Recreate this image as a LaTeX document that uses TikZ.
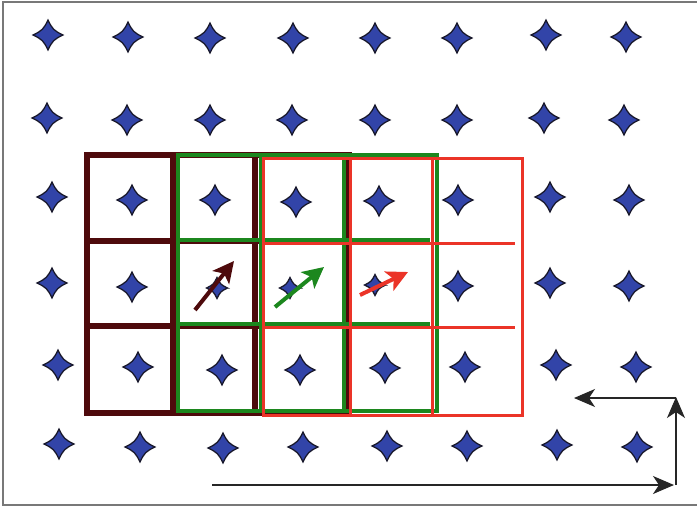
\documentclass[tikz,border=0pt]{standalone}
\usetikzlibrary{arrows.meta}
\definecolor{starblue}{RGB}{50,68,168}
\definecolor{stardark}{RGB}{25,25,45}
\definecolor{gbrown}{RGB}{78,10,12}
\definecolor{ggreen}{RGB}{28,135,30}
\definecolor{gred}{RGB}{235,52,40}
\definecolor{framegray}{RGB}{120,120,120}
\tikzset{
  star4/.pic={\filldraw[fill=starblue,draw=stardark,line width=1.3pt]
    (15,0) .. controls (6,4.2) and (4.2,6) .. (0,15)
    .. controls (-4.2,6) and (-6,4.2) .. (-15,0)
    .. controls (-6,-4.2) and (-4.2,-6) .. (0,-15)
    .. controls (4.2,-6) and (6,-4.2) .. cycle;},
  brownline/.style={draw=gbrown,line width=6pt},
  greenline/.style={draw=ggreen,line width=3.2pt},
  redline/.style={draw=gred,line width=3pt},
  motion/.style={line width=4pt,-{Stealth[length=21pt,width=21pt,inset=5pt]}},
  axis/.style={draw=black!85,line width=1.3pt,-{Stealth[length=21pt,width=18pt,inset=6pt]}},
}
\begin{document}
\begin{tikzpicture}[x=1pt,y=-1pt]
\useasboundingbox (0,0) rectangle (697,507);
\fill[white] (0,0) rectangle (697,507);
\draw[framegray,line width=1.6pt] (697,2) -- (3,2) -- (3,505) -- (697,505);
% stars
\foreach \x/\y in {48/35,128/37,210/38,293/38,375/38,457/38,546/35,626/37,
  47/118,127/120,210/120,292/120,375/120,457/120,544/118,624/120,
  52/197,132/200,215/200,296/202,379/201,458/200,550/197,629/200,
  52/283,132/287,458/286,550/283,629/286,
  58/365,138/367,222/370,300/370,385/368,465/367,556/365,636/367,
  59/444,140/447,223/448,303/447,387/446,467/446,557/445,637/447}
  \pic at (\x,\y) {star4};
\foreach \x/\y in {217/288,290/288,375/285}
  \pic[scale=0.7] at (\x,\y) {star4};
% brown grid
\draw[brownline] (87,155) rectangle (349,413);
\draw[brownline] (173,155) -- (173,413) (255,155) -- (255,413)
  (87,241) -- (349,241) (87,326) -- (349,326);
% green grid
\draw[greenline] (178,155) rectangle (437,411);
\draw[greenline] (261,155) -- (261,411) (344,155) -- (344,411)
  (178,240) -- (430,240) (178,324) -- (430,324);
% red grid
\draw[redline] (263,158) rectangle (522,415);
\draw[redline] (350,160) -- (350,415) (432,160) -- (432,415)
  (263,243) -- (515,243) (263,327) -- (515,327);
% motion arrows
\coordinate (b1) at (195,310); \coordinate (b2) at (234,261);
\coordinate (g1) at (275,307); \coordinate (g2) at (324,267);
\coordinate (r1) at (360,295); \coordinate (r2) at (408,272);
\draw[motion,gbrown] (b1) -- (b2);
\draw[motion,ggreen] (g1) -- (g2);
\draw[motion,gred] (r1) -- (r2);
% axes
\coordinate (h1) at (212,485); \coordinate (h2) at (674,485);
\coordinate (v1) at (676,485); \coordinate (v2) at (676,397);
\coordinate (l1) at (676,398); \coordinate (l2) at (574,398);
\draw[axis] (h1) -- (h2);
\draw[axis] (v1) -- (v2);
\draw[axis] (l1) -- (l2);
\end{tikzpicture}
\end{document}
